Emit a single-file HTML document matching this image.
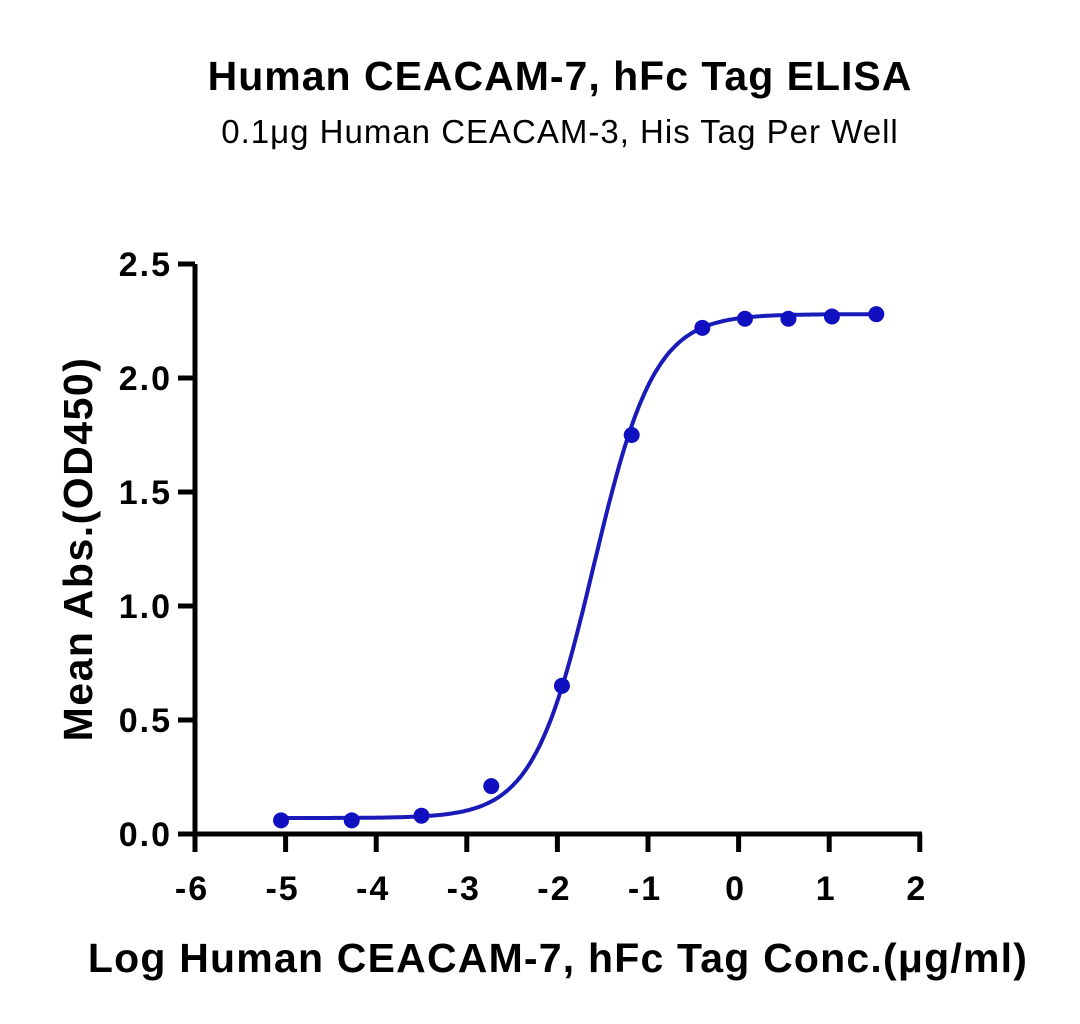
<!DOCTYPE html>
<html><head><meta charset="utf-8"><style>body{margin:0;background:#fff}svg{display:block}text{font-family:"Liberation Sans",sans-serif}</style></head>
<body>
<svg width="1080" height="1024">
<text x="560" y="90" text-anchor="middle" font-size="41" font-weight="bold" letter-spacing="1">Human CEACAM-7, hFc Tag ELISA</text>
<text x="560" y="143" text-anchor="middle" font-size="33" letter-spacing="1">0.1μg Human CEACAM-3, His Tag Per Well</text>
<g id="axes"></g>
<g id="plot"></g>
<text x="558" y="972" text-anchor="middle" font-size="41" font-weight="bold" letter-spacing="1.2">Log Human CEACAM-7, hFc Tag Conc.(μg/ml)</text>
<text transform="translate(92,549) rotate(-90)" text-anchor="middle" font-size="41" font-weight="bold" letter-spacing="1.5">Mean Abs.(OD450)</text>
</svg>
<script>
const xs=[-5.05,-4.27,-3.5,-2.73,-1.95,-1.18,-0.4,0.07,0.55,1.03,1.52];
const ys=[0.06,0.06,0.08,0.21,0.65,1.75,2.22,2.26,2.26,2.27,2.28];
const xTicks=[-6,-5,-4,-3,-2,-1,0,1,2];
const yTicks=[0,0.5,1,1.5,2,2.5];
const yTickLabels=["0.0","0.5","1.0","1.5","2.0","2.5"];
const fitBottom=0.07, fitTop=2.28, fitLogEC50=-1.6, fitHill=1.3;
const NS="http://www.w3.org/2000/svg";
const X=v=>195+(v+6)*90.6, Y=v=>834-v*228;
const ax=document.getElementById('axes'), pl=document.getElementById('plot');
function mk(p,t,a){const e=document.createElementNS(NS,t);for(const k in a)e.setAttribute(k,a[k]);p.appendChild(e);return e;}
let e=mk(ax,'line',{x1:195,y1:Y(2.5),x2:195,y2:836,stroke:'#000','stroke-width':5});


e=mk(ax,'line',{x1:178,y1:834,x2:922,y2:834,stroke:'#000','stroke-width':5});


xTicks.forEach(t=>{
 let l=mk(ax,'line',{x1:X(t),y1:834,x2:X(t),y2:852,stroke:'#000','stroke-width':5});
 
 
 let s=mk(ax,'text',{x:X(t)-3,y:900,'text-anchor':'middle','font-size':34,'font-weight':'bold','letter-spacing':2});
 s.textContent=String(t);
 
 
});
yTicks.forEach((t,i)=>{
 let l=mk(ax,'line',{x1:178,y1:Y(t),x2:195,y2:Y(t),stroke:'#000','stroke-width':5});
 
 
 let s=mk(ax,'text',{x:172,y:Y(t)+12,'text-anchor':'end','font-size':34,'font-weight':'bold','letter-spacing':2});
 s.textContent=yTickLabels[i];
 
 
});
let d='';
for(let v=xs[0];v<=xs[xs.length-1]+1e-9;v+=0.02){const y=fitBottom+(fitTop-fitBottom)/(1+Math.pow(10,(fitLogEC50-v)*fitHill));d+=(d?'L':'M')+X(v).toFixed(1)+','+Y(y).toFixed(1);}
e=mk(pl,'path',{d:d,fill:'none',stroke:'#1a1ab8','stroke-width':4});


xs.forEach((x,i)=>{
 let c=mk(pl,'circle',{cx:X(x),cy:Y(ys[i]),r:8,fill:'#1010c0'});
 
 
});
</script>
</body></html>
